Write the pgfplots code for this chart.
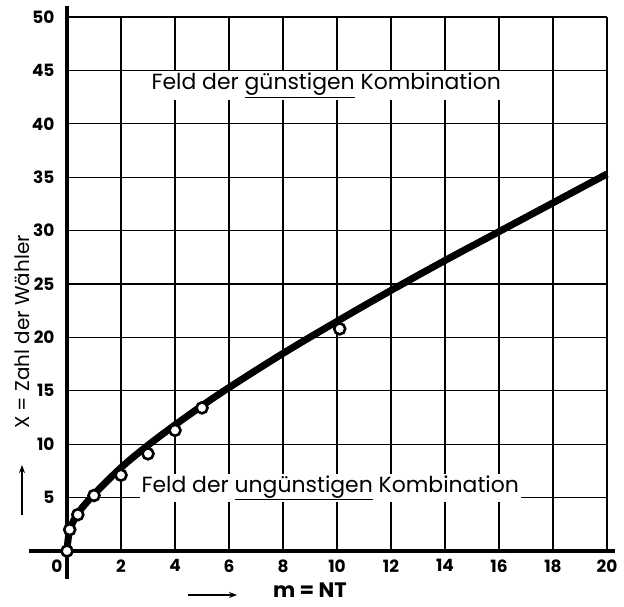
\documentclass[border=0pt]{standalone}
\usepackage{fontspec}
\setmainfont{Poppins}
\usepackage{pgfplots}
\pgfplotsset{compat=1.18}
\usetikzlibrary{arrows.meta}

\begin{document}
\begin{tikzpicture}[x=1bp,y=1bp]
\path (0,0) rectangle (624,607);
\begin{axis}[
  at={(67bp,56bp)}, anchor=south west,
  scale only axis, width=540bp, height=534bp,
  xmin=0, xmax=20, ymin=0, ymax=50,
  xtick={2,4,...,20}, ytick={5,10,...,50},
  grid=major,
  major grid style={black, line width=1.3bp},
  axis line style={draw=none},
  tick style={draw=none},
  ticklabel style={font=\fontsize{17}{17}\selectfont\bfseries},
  xticklabel style={yshift=-5bp},
  yticklabel style={xshift=-9bp},
  /pgf/number format/assume math mode=true,
  clip=false,
]
% thick axes
\draw[line width=4bp] (axis cs:-1.4,0) -- (axis cs:20.3,0);
\draw[line width=4bp] (axis cs:0,-2.6) -- (axis cs:0,51);

% curve
\addplot[black, line width=7bp, smooth, tension=0.6] coordinates {
  (0,0) (0.1,1.9) (0.4,3.5) (1,5.3) (2,7.8) (3,9.9) (4,11.8)
  (5,13.6) (6,15.3) (8,18.5) (10,21.5) (12,24.4) (14,27.2) (16,29.9)
  (18,32.6) (20,35.3)
};

% observed points
\addplot[only marks, mark=*, mark size=5.5bp,
  mark options={fill=white, draw=black, line width=2.6bp}] coordinates {
  (0,0) (0.1,2) (0.4,3.4) (1,5.2) (2,7.1) (3,9.1) (4,11.3) (5,13.4) (10.1,20.8)
};

\node[fill=white, inner sep=2bp, font=\fontsize{22}{22}\selectfont]
  at (axis cs:9.6,43.6) {Feld der \underline{günstigen} Kombination};
\node[fill=white, inner sep=2bp, font=\fontsize{22}{22}\selectfont]
  at (axis cs:9.75,5.9) {Feld der \underline{ungünstigen} Kombination};
\end{axis}

\node[font=\fontsize{17}{17}\selectfont\bfseries] at (57,41) {0};

% y label
\node[rotate=90, font=\fontsize{20}{20}\selectfont] at (22,275) {X = Zahl der Wähler};
\draw[-{Stealth[length=8bp,width=6bp]}, line width=1.6bp] (22,92) -- (22,142);

% x label
\draw[-{Stealth[length=8bp,width=6bp]}, line width=1.6bp] (188,12) -- (237,12);
\node[font=\fontsize{21}{21}\selectfont\bfseries] at (310,17) {m = NT};
\end{tikzpicture}
\end{document}
